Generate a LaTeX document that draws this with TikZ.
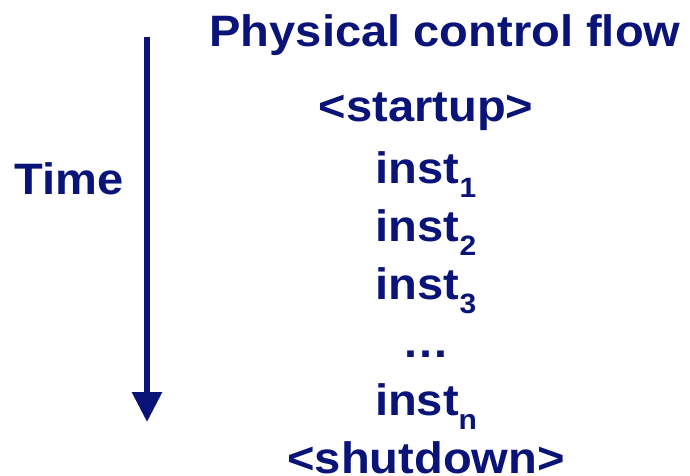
\documentclass[tikz,border=0pt]{standalone}
\usepackage{fontspec}
\setmainfont{Liberation Sans}[FakeStretch=1.07]
\usetikzlibrary{arrows.meta}
\definecolor{navyblue}{RGB}{10,20,120}
\newcommand{\mysub}[1]{\raisebox{-14pt}{\fontsize{28}{28}\selectfont #1}}
\begin{document}
\begin{tikzpicture}[x=1pt,y=1pt,
  lbl/.style={anchor=base,inner sep=0pt,text=navyblue,font=\fontsize{44}{44}\selectfont\bfseries},
  timearrow/.style={draw=navyblue,line width=6pt,-{Triangle[width=29pt,length=30pt]}}]
\useasboundingbox (0,0) rectangle (690,475);
\node[lbl] (title) at (445,428) {Physical control flow};
\node[lbl] (time) at (69,281) {Time};
\node[lbl] (startup) at (426,354) {<startup>};
\node[lbl] (inst1) at (426,292) {inst\mysub{1}};
\node[lbl] (inst2) at (426,234) {inst\mysub{2}};
\node[lbl] (inst3) at (426,176) {inst\mysub{3}};
\node[lbl] (dots) at (426,118) {…};
\node[lbl] (instn) at (426,60) {inst\mysub{n}};
\node[lbl] (shutdown) at (426,2) {<shutdown>};
\coordinate (arrtop) at (147,438);
\coordinate (arrbot) at (147,53);
\draw[timearrow] (arrtop) -- (arrbot);
\end{tikzpicture}
\end{document}
